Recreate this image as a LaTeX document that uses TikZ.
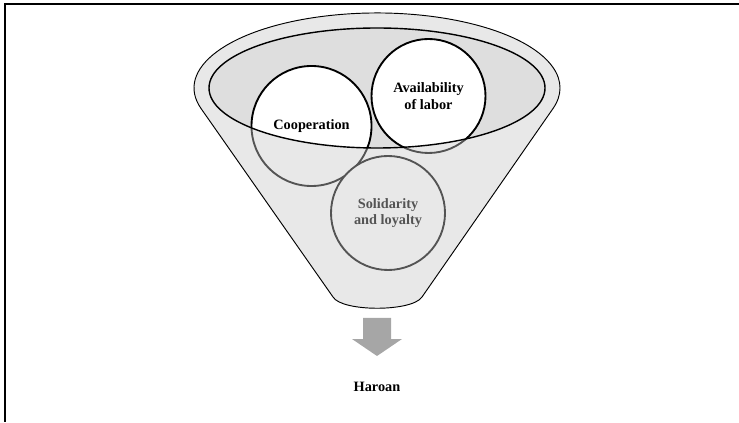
\documentclass[tikz,border=0pt]{standalone}
\usepackage{fontspec}
\setmainfont{Liberation Serif}
\usetikzlibrary{positioning}

\definecolor{rimgray}{HTML}{DEDEDE}
\definecolor{glassgray}{HTML}{C9C9C9}
\definecolor{arrowgray}{HTML}{A6A6A6}

% outline of the funnel: top rim, two sides and the rounded spout
\newcommand{\funnelpath}{(201.3,313.1) arc[start angle=196.2, end angle=-16.2, x radius=183, y radius=75]
    -- (422,125) .. controls (412,110) and (342,110) .. (333,125) -- cycle}

\begin{document}
\begin{tikzpicture}[
    x=0.03cm, y=0.03cm,
    ball/.style = {
        circle,
        draw=black,
        line width=1.6pt,
        fill=white,
        align=center,
        inner sep=0pt,
        font=\fontsize{12.2}{14}\selectfont\bfseries
    },
    label/.style = {
        font=\fontsize{12.2}{14}\selectfont\bfseries
    }
]
\useasboundingbox (0,0) rectangle (739,422);
\draw [line width=1.2pt] (739,418) -- (5,418) -- (5,0);

\fill [white] \funnelpath;
\fill [rimgray] (377,334) ellipse [x radius=168, y radius=60];

\node (coop) [ball, minimum size=3.6cm] at (311.5,296) {Cooperation};
\node (labor) [ball, minimum size=3.42cm] at (428.5,326) {Availability\\of labor};
\node (loyal) [ball, minimum size=3.42cm] at (388,209) {Solidarity\\and loyalty};

% front wall of the funnel shades everything below the rim
\fill [glassgray, opacity=0.42, even odd rule] \funnelpath (377,334) ellipse [x radius=168, y radius=60];

\draw [line width=1.2pt] (377,334) ellipse [x radius=168, y radius=60];
\draw [line width=0.8pt] \funnelpath;

\fill [arrowgray] (363,104) -- (391,104) -- (391,83) -- (402,83) -- (377,66)
    -- (352,83) -- (363,83) -- cycle;
\coordinate (tip) at (377,66);
\node (haroan) [label, below=0.65cm of tip] {Haroan};

\end{tikzpicture}
\end{document}
